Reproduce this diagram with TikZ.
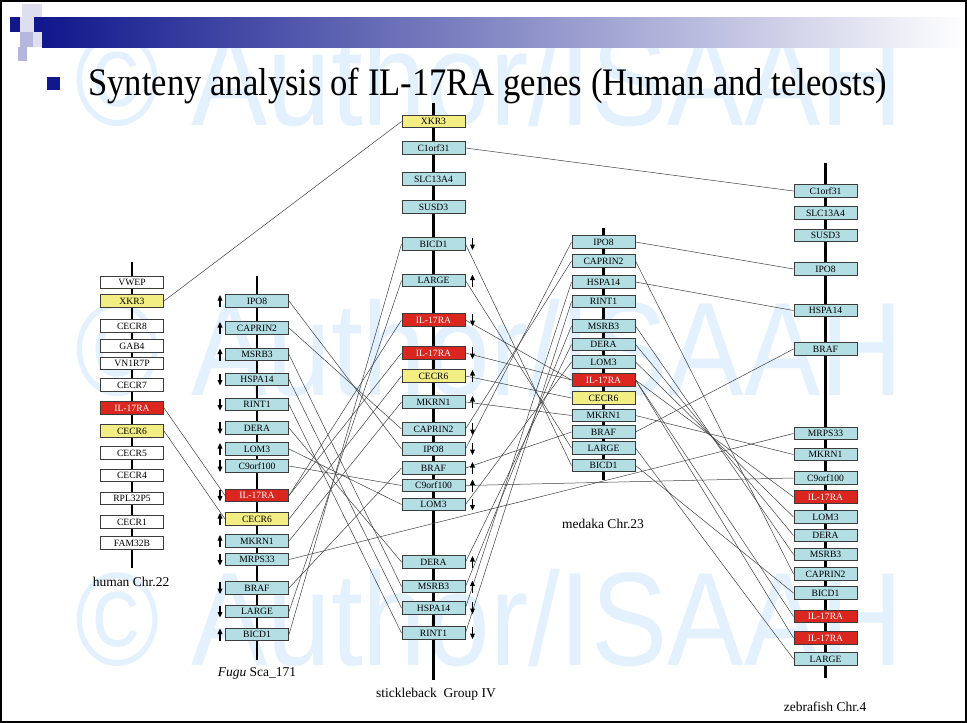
\documentclass[tikz,border=0pt]{standalone}
\usepackage{fontspec}
\usepackage{graphicx}
\setmainfont{Liberation Serif}
\newfontfamily\wmfont{Liberation Sans}
\usetikzlibrary{arrows.meta}
\definecolor{gblue}{RGB}{178,222,228}
\definecolor{gyel}{RGB}{242,238,132}
\definecolor{gred}{RGB}{218,38,30}
\definecolor{gedge}{RGB}{60,60,60}
\definecolor{navy}{RGB}{16,24,140}
\definecolor{wmark}{RGB}{226,241,253}
\definecolor{lav}{RGB}{180,182,220}
\definecolor{lav2}{RGB}{222,222,238}
\newcommand\gb[5]{\node[gene,#4] (#1) at (#2,#3) {#5};}
\newcommand\upL[1]{\draw[strand] ([xshift=-5pt,yshift=-6pt]#1.west) -- ([xshift=-5pt,yshift=6pt]#1.west);}
\newcommand\dnL[1]{\draw[strand] ([xshift=-5pt,yshift=6pt]#1.west) -- ([xshift=-5pt,yshift=-6pt]#1.west);}
\newcommand\upR[1]{\draw[strand] ([xshift=7pt,yshift=-6pt]#1.east) -- ([xshift=7pt,yshift=6pt]#1.east);}
\newcommand\dnR[1]{\draw[strand] ([xshift=7pt,yshift=6pt]#1.east) -- ([xshift=7pt,yshift=-6pt]#1.east);}
\begin{document}
\begin{tikzpicture}[x=1pt,y=-1pt,
  gene/.style={draw=gedge,line width=1pt,minimum width=63pt,minimum height=12.5pt,inner sep=0pt,
    font=\fontsize{9.6}{10}\selectfont},
  gB/.style={fill=gblue},
  gY/.style={fill=gyel},
  gR/.style={fill=gred,text=white},
  gW/.style={fill=white},
  conn/.style={draw=black!75,line width=0.5pt},
  axis/.style={draw=black,line width=2.4pt},
  strand/.style={line width=1.1pt,-{Triangle[length=5.5pt,width=4.8pt]}},
  lab/.style={font=\fontsize{13.5}{15}\selectfont}]
\useasboundingbox (0,0) rectangle (967,723);
\fill[white] (0,0) rectangle (967,723);
% watermark
\foreach \yy in {125,395,665}{
  \node[anchor=base west,inner sep=0pt,text=wmark] (wm\yy) at (75,\yy)
    {\resizebox{828pt}{\height}{\wmfont\fontsize{133}{133}\selectfont © Author/ISAAH}};}
% header
\shade[left color=navy,right color=white] (42,17) rectangle (967,47);
\fill[lav2] (22,4) rectangle (42,17);
\fill[navy] (10,17) rectangle (20,32);
\fill[lav2] (20,17) rectangle (34,32);
\fill[navy] (34,17) rectangle (42,32);
\fill[lav] (20,32) rectangle (33,47);
\fill[lav2] (33,32) rectangle (42,47);
\fill[lav] (18,47) rectangle (27,61);
\fill[navy] (47,77) rectangle (60,90);
\node[anchor=base west,inner sep=0pt] (title) at (88,95)
  {\resizebox{799pt}{\height}{\fontsize{39}{40}\selectfont Synteny analysis of IL-17RA genes (Human and teleosts)}};
\draw[line width=2pt] (1,1) rectangle (966,722);
% axes
\coordinate (hT) at (132,262); \coordinate (hB) at (132,568);
\coordinate (fT) at (257,276); \coordinate (fB) at (257,660);
\coordinate (sT) at (433.5,103); \coordinate (sB) at (433.5,680);
\coordinate (mT) at (603.5,228); \coordinate (mB) at (603.5,480);
\coordinate (zT) at (825.5,163); \coordinate (zB) at (825.5,678);
\draw[axis] (hT) -- (hB);
\draw[axis] (fT) -- (fB);
\draw[axis] (sT) -- (sB);
\draw[axis] (mT) -- (mB);
\draw[axis] (zT) -- (zB);
% human
\gb{hVWEP}{132}{282.5}{gW}{VWEP}
\gb{hXKR3}{132}{301}{gY}{XKR3}
\gb{hCECR8}{132}{326}{gW}{CECR8}
\gb{hGAB4}{132}{346}{gW}{GAB4}
\gb{hVN}{132}{363.5}{gW}{VN1R7P}
\gb{hCECR7}{132}{385}{gW}{CECR7}
\gb{hIL}{132}{408}{gR}{IL-17RA}
\gb{hCECR6}{132}{431}{gY}{CECR6}
\gb{hCECR5}{132}{453}{gW}{CECR5}
\gb{hCECR4}{132}{475.5}{gW}{CECR4}
\gb{hRPL}{132}{498.5}{gW}{RPL32P5}
\gb{hCECR1}{132}{522}{gW}{CECR1}
\gb{hFAM}{132}{543}{gW}{FAM32B}
% fugu
\gb{fIPO8}{257}{301}{gB}{IPO8}
\gb{fCAP}{257}{328}{gB}{CAPRIN2}
\gb{fMSR}{257}{354.5}{gB}{MSRB3}
\gb{fHSP}{257}{379.5}{gB}{HSPA14}
\gb{fRINT}{257}{404.5}{gB}{RINT1}
\gb{fDERA}{257}{428}{gB}{DERA}
\gb{fLOM}{257}{449}{gB}{LOM3}
\gb{fC9}{257}{466}{gB}{C9orf100}
\gb{fIL}{257}{495.5}{gR}{IL-17RA}
\gb{fCECR6}{257}{519}{gY}{CECR6}
\gb{fMKR}{257}{541}{gB}{MKRN1}
\gb{fMRP}{257}{559.5}{gB}{MRPS33}
\gb{fBRAF}{257}{588}{gB}{BRAF}
\gb{fLARGE}{257}{611.5}{gB}{LARGE}
\gb{fBIC}{257}{634.5}{gB}{BICD1}
% stickleback
\gb{sXKR3}{433.5}{121.5}{gY}{XKR3}
\gb{sC1}{433.5}{148}{gB}{C1orf31}
\gb{sSLC}{433.5}{179}{gB}{SLC13A4}
\gb{sSUSD}{433.5}{207}{gB}{SUSD3}
\gb{sBIC}{433.5}{244}{gB}{BICD1}
\gb{sLARGE}{433.5}{280.5}{gB}{LARGE}
\gb{sILa}{433.5}{320}{gR}{IL-17RA}
\gb{sILb}{433.5}{353}{gR}{IL-17RA}
\gb{sCECR6}{433.5}{376}{gY}{CECR6}
\gb{sMKR}{433.5}{402}{gB}{MKRN1}
\gb{sCAP}{433.5}{429}{gB}{CAPRIN2}
\gb{sIPO8}{433.5}{449}{gB}{IPO8}
\gb{sBRAF}{433.5}{468}{gB}{BRAF}
\gb{sC9}{433.5}{485.5}{gB}{C9orf100}
\gb{sLOM}{433.5}{504.5}{gB}{LOM3}
\gb{sDERA}{433.5}{562}{gB}{DERA}
\gb{sMSR}{433.5}{586.5}{gB}{MSRB3}
\gb{sHSP}{433.5}{608}{gB}{HSPA14}
\gb{sRINT}{433.5}{633}{gB}{RINT1}
% medaka
\gb{mIPO8}{603.5}{242}{gB}{IPO8}
\gb{mCAP}{603.5}{261}{gB}{CAPRIN2}
\gb{mHSP}{603.5}{282}{gB}{HSPA14}
\gb{mRINT}{603.5}{301.5}{gB}{RINT1}
\gb{mMSR}{603.5}{326}{gB}{MSRB3}
\gb{mDERA}{603.5}{344.5}{gB}{DERA}
\gb{mLOM}{603.5}{362}{gB}{LOM3}
\gb{mIL}{603.5}{380}{gR}{IL-17RA}
\gb{mCECR6}{603.5}{398}{gY}{CECR6}
\gb{mMKR}{603.5}{415.5}{gB}{MKRN1}
\gb{mBRAF}{603.5}{432}{gB}{BRAF}
\gb{mLARGE}{603.5}{448}{gB}{LARGE}
\gb{mBIC}{603.5}{465.5}{gB}{BICD1}
% zebrafish
\gb{zC1}{825.5}{191}{gB}{C1orf31}
\gb{zSLC}{825.5}{213}{gB}{SLC13A4}
\gb{zSUSD}{825.5}{235.5}{gB}{SUSD3}
\gb{zIPO8}{825.5}{269}{gB}{IPO8}
\gb{zHSP}{825.5}{310.5}{gB}{HSPA14}
\gb{zBRAF}{825.5}{349}{gB}{BRAF}
\gb{zMRP}{825.5}{433.5}{gB}{MRPS33}
\gb{zMKR}{825.5}{454.5}{gB}{MKRN1}
\gb{zC9}{825.5}{478}{gB}{C9orf100}
\gb{zILa}{825.5}{497}{gR}{IL-17RA}
\gb{zLOM}{825.5}{517}{gB}{LOM3}
\gb{zDERA}{825.5}{535.5}{gB}{DERA}
\gb{zMSR}{825.5}{554.5}{gB}{MSRB3}
\gb{zCAP}{825.5}{574}{gB}{CAPRIN2}
\gb{zBIC}{825.5}{593}{gB}{BICD1}
\gb{zILb}{825.5}{616.5}{gR}{IL-17RA}
\gb{zILc}{825.5}{638}{gR}{IL-17RA}
\gb{zLARGE}{825.5}{659}{gB}{LARGE}
% connectors
\path[conn] (hXKR3.east) -- (sXKR3.west);
\path[conn] (hIL.east) -- (fIL.west);
\path[conn] (hCECR6.east) -- (fCECR6.west);
\path[conn] (sC1.east) -- (zC1.west);
% fugu - stickleback
\path[conn] (fIPO8.east) -- (sIPO8.west);
\path[conn] (fCAP.east) -- (sCAP.west);
\path[conn] (fMSR.east) -- (sMSR.west);
\path[conn] (fHSP.east) -- (sHSP.west);
\path[conn] (fRINT.east) -- (sRINT.west);
\path[conn] (fDERA.east) -- (sDERA.west);
\path[conn] (fLOM.east) -- (sLOM.west);
\path[conn] (fC9.east) -- (sC9.west);
\path[conn] (fIL.east) -- (sILa.west);
\path[conn] (fIL.east) -- (sILb.west);
\path[conn] (fCECR6.east) -- (sCECR6.west);
\path[conn] (fMKR.east) -- (sMKR.west);
\path[conn] (fMRP.east) -- (zMRP.west);
\path[conn] (fBRAF.east) -- (sBRAF.west);
\path[conn] (fLARGE.east) -- (sLARGE.west);
\path[conn] (fBIC.east) -- (sBIC.west);
% stickleback - medaka
\path[conn] (sBIC.east) -- (mBIC.west);
\path[conn] (sLARGE.east) -- (mLARGE.west);
\path[conn] (sILa.east) -- (mIL.west);
\path[conn] (sILb.east) -- (mIL.west);
\path[conn] (sCECR6.east) -- (mCECR6.west);
\path[conn] (sMKR.east) -- (mMKR.west);
\path[conn] (sCAP.east) -- (mCAP.west);
\path[conn] (sIPO8.east) -- (mIPO8.west);
\path[conn] (sBRAF.east) -- (mBRAF.west);
\path[conn] (sC9.east) -- (zC9.west);
\path[conn] (sLOM.east) -- (mLOM.west);
\path[conn] (sDERA.east) -- (mDERA.west);
\path[conn] (sMSR.east) -- (mMSR.west);
\path[conn] (sHSP.east) -- (mHSP.west);
\path[conn] (sRINT.east) -- (mRINT.west);
% medaka - zebrafish
\path[conn] (mIPO8.east) -- (zIPO8.west);
\path[conn] (mCAP.east) -- (zCAP.west);
\path[conn] (mHSP.east) -- (zHSP.west);
\path[conn] (mMSR.east) -- (zMSR.west);
\path[conn] (mDERA.east) -- (zDERA.west);
\path[conn] (mLOM.east) -- (zLOM.west);
\path[conn] (mIL.east) -- (zILa.west);
\path[conn] (mIL.east) -- (zILb.west);
\path[conn] (mIL.east) -- (zILc.west);
\path[conn] (mMKR.east) -- (zMKR.west);
\path[conn] (mBRAF.east) -- (zBRAF.west);
\path[conn] (mLARGE.east) -- (zLARGE.west);
\path[conn] (mBIC.east) -- (zBIC.west);
% strand arrows fugu
\upL{fIPO8}\upL{fCAP}\upL{fMSR}\dnL{fHSP}\dnL{fRINT}\dnL{fDERA}\upL{fLOM}\dnL{fC9}
\dnL{fIL}\upL{fCECR6}\upL{fMKR}\dnL{fMRP}\dnL{fBRAF}\dnL{fLARGE}\upL{fBIC}
% strand arrows stickleback
\dnR{sBIC}\upR{sLARGE}\dnR{sILa}\dnR{sILb}\upR{sCECR6}\upR{sMKR}\dnR{sCAP}\dnR{sIPO8}
\upR{sBRAF}\upR{sC9}\dnR{sLOM}\upR{sDERA}\upR{sMSR}\dnR{sHSP}\dnR{sRINT}
% labels
\node[lab] (lh) at (131,582) {human Chr.22};
\node[lab] (lf) at (257,673) {\textit{Fugu} Sca\_171};
\node[lab] (ls) at (436,694) {stickleback\ \ Group IV};
\node[lab] (lm) at (603,524) {medaka Chr.23};
\node[lab] (lz) at (825,707) {zebrafish Chr.4};
\end{tikzpicture}
\end{document}
